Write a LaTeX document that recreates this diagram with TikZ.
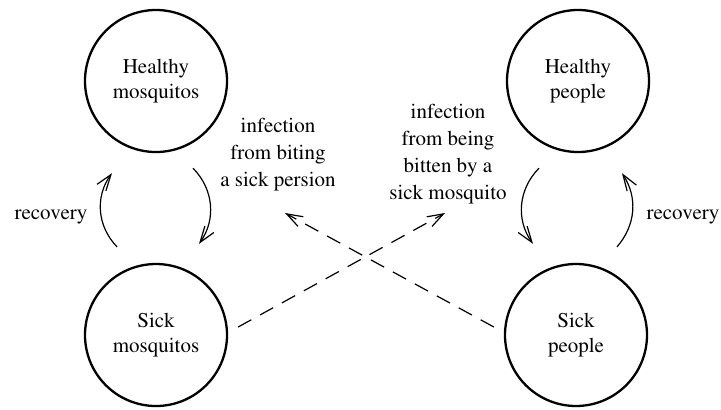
\documentclass[tikz,border=0pt]{standalone}
\usepackage[T1]{fontenc}
\usepackage{mathptmx}
\usetikzlibrary{calc,arrows.meta}
\tikzset{>={Straight Barb[width=5.5pt,length=8pt]}}

\begin{document}
\begin{tikzpicture}[x=0.5pt,y=-0.5pt]
  \tikzstyle{cnode} = [line width=1.15pt, draw=black, circle, minimum size=71pt, inner sep=0pt, align=center, font=\fontsize{10.5}{12.5}\selectfont]
  \tikzstyle{lnode} = [inner sep=0pt, align=center, font=\fontsize{10.5}{13.5}\selectfont]
  \tikzstyle{cline} = [->, line width=0.6pt]
  \tikzstyle{dline} = [->, line width=0.6pt, dash pattern=on 7.5pt off 5pt]

  \useasboundingbox (0,0) rectangle (721,409);

  \node[cnode] (hmos) at (156,81) {Healthy\\mosquitos};
  \node[cnode] (smos) at (156,335) {Sick\\mosquitos};
  \node[cnode] (hpeo) at (578,81) {Healthy\\people};
  \node[cnode] (speo) at (576,335) {Sick\\people};

  \node[lnode] (recl) at (51,217) {recovery};
  \node[lnode] (recr) at (683,217) {recovery};
  \node[lnode] (infl) at (278,155) {infection\\from biting\\a sick persion};
  \node[lnode] (infr) at (448,154) {infection\\from being\\bitten by a\\sick mosquito};

  % mosquito side
  \draw[cline] ($(hmos.south)+(37,15)$) to[bend left=40] ($(smos.north)+(43,-19)$);
  \draw[cline] ($(smos.north)+(-39,-16)$) to[bend left=40] ($(hmos.south)+(-44,20)$);
  % people side
  \draw[cline] ($(hpeo.south)+(-39,15)$) to[bend right=40] ($(speo.north)+(-43,-19)$);
  \draw[cline] ($(speo.north)+(41,-16)$) to[bend right=37] ($(hpeo.south)+(44,20)$);

  % cross infection
  \coordinate (tipl) at (285,213);
  \coordinate (tipr) at (445,213);
  \draw[dline] ($(smos.east)+(10,-8)$) -- (tipr);
  \draw[dline] ($(speo.west)+(-10,-8)$) -- (tipl);
\end{tikzpicture}
\end{document}
